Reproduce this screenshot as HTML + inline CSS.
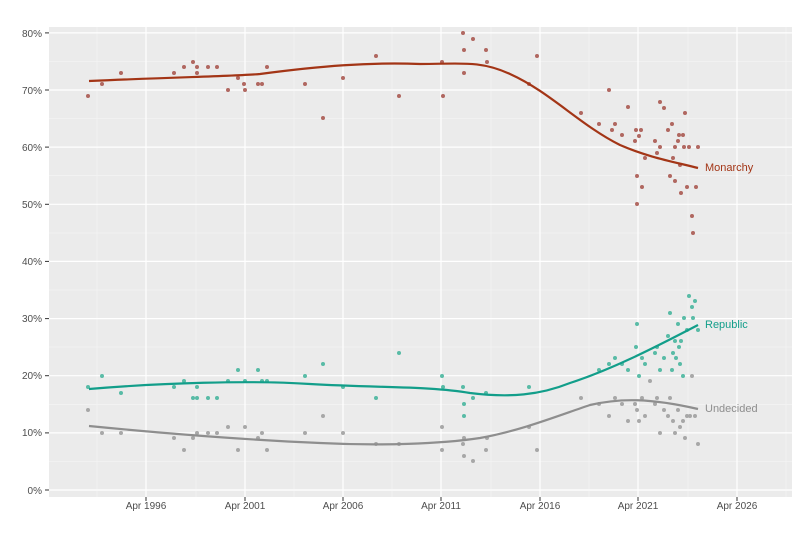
<!DOCTYPE html>
<html><head><meta charset="utf-8"><style>body{margin:0;background:#fff}svg{display:block}</style></head><body>
<svg width="800" height="534" viewBox="0 0 800 534" font-family="Liberation Sans, sans-serif">
<rect x="49" y="27" width="743" height="470" fill="#ebebeb"/>
<g stroke="#f5f5f5" stroke-width="0.6">
<line x1="49" x2="792" y1="461.4" y2="461.4"/><line x1="49" x2="792" y1="404.3" y2="404.3"/><line x1="49" x2="792" y1="347.1" y2="347.1"/><line x1="49" x2="792" y1="290" y2="290"/><line x1="49" x2="792" y1="232.9" y2="232.9"/><line x1="49" x2="792" y1="175.7" y2="175.7"/><line x1="49" x2="792" y1="118.6" y2="118.6"/><line x1="49" x2="792" y1="61.4" y2="61.4"/>
<line y1="27" y2="497" x1="97" x2="97"/><line y1="27" y2="497" x1="196" x2="196"/><line y1="27" y2="497" x1="294" x2="294"/><line y1="27" y2="497" x1="392" x2="392"/><line y1="27" y2="497" x1="491" x2="491"/><line y1="27" y2="497" x1="589" x2="589"/><line y1="27" y2="497" x1="688" x2="688"/><line y1="27" y2="497" x1="786" x2="786"/>
</g>
<g stroke="#fff" stroke-width="1.2">
<line x1="49" x2="792" y1="490" y2="490"/><line x1="49" x2="792" y1="432.9" y2="432.9"/><line x1="49" x2="792" y1="375.7" y2="375.7"/><line x1="49" x2="792" y1="318.6" y2="318.6"/><line x1="49" x2="792" y1="261.4" y2="261.4"/><line x1="49" x2="792" y1="204.3" y2="204.3"/><line x1="49" x2="792" y1="147.1" y2="147.1"/><line x1="49" x2="792" y1="90" y2="90"/><line x1="49" x2="792" y1="32.9" y2="32.9"/>
<line y1="27" y2="497" x1="146" x2="146"/><line y1="27" y2="497" x1="245" x2="245"/><line y1="27" y2="497" x1="343" x2="343"/><line y1="27" y2="497" x1="441" x2="441"/><line y1="27" y2="497" x1="540" x2="540"/><line y1="27" y2="497" x1="638" x2="638"/><line y1="27" y2="497" x1="737" x2="737"/>
</g>
<g stroke="#333" stroke-width="1">
<line x1="45" x2="49" y1="490" y2="490"/><line x1="45" x2="49" y1="432.9" y2="432.9"/><line x1="45" x2="49" y1="375.7" y2="375.7"/><line x1="45" x2="49" y1="318.6" y2="318.6"/><line x1="45" x2="49" y1="261.4" y2="261.4"/><line x1="45" x2="49" y1="204.3" y2="204.3"/><line x1="45" x2="49" y1="147.1" y2="147.1"/><line x1="45" x2="49" y1="90" y2="90"/><line x1="45" x2="49" y1="32.9" y2="32.9"/>
<line y1="497" y2="501" x1="146" x2="146"/><line y1="497" y2="501" x1="245" x2="245"/><line y1="497" y2="501" x1="343" x2="343"/><line y1="497" y2="501" x1="441" x2="441"/><line y1="497" y2="501" x1="540" x2="540"/><line y1="497" y2="501" x1="638" x2="638"/><line y1="497" y2="501" x1="737" x2="737"/>
</g>
<g font-size="10" fill="#4d4d4d" text-anchor="end">
<text x="42" y="494">0%</text><text x="42" y="436">10%</text><text x="42" y="379">20%</text><text x="42" y="322">30%</text><text x="42" y="265">40%</text><text x="42" y="208">50%</text><text x="42" y="151">60%</text><text x="42" y="94">70%</text><text x="42" y="37">80%</text>
</g>
<g font-size="10" fill="#4d4d4d" text-anchor="middle">
<text x="146" y="509">Apr 1996</text><text x="245" y="509">Apr 2001</text><text x="343" y="509">Apr 2006</text><text x="441" y="509">Apr 2011</text><text x="540" y="509">Apr 2016</text><text x="638" y="509">Apr 2021</text><text x="737" y="509">Apr 2026</text>
</g>
<g fill="#a65048" opacity="0.85">
<circle cx="88" cy="96" r="2"/><circle cx="102" cy="84" r="2"/><circle cx="121" cy="73" r="2"/><circle cx="174" cy="73" r="2"/><circle cx="184" cy="67" r="2"/><circle cx="193" cy="62" r="2"/><circle cx="197" cy="67" r="2"/><circle cx="197" cy="73" r="2"/><circle cx="208" cy="67" r="2"/><circle cx="217" cy="67" r="2"/><circle cx="228" cy="90" r="2"/><circle cx="238" cy="78" r="2"/><circle cx="244" cy="84" r="2"/><circle cx="245" cy="90" r="2"/><circle cx="258" cy="84" r="2"/><circle cx="262" cy="84" r="2"/><circle cx="267" cy="67" r="2"/><circle cx="305" cy="84" r="2"/><circle cx="323" cy="118" r="2"/><circle cx="343" cy="78" r="2"/><circle cx="376" cy="56" r="2"/><circle cx="399" cy="96" r="2"/><circle cx="442" cy="62" r="2"/><circle cx="443" cy="96" r="2"/><circle cx="463" cy="33" r="2"/><circle cx="464" cy="50" r="2"/><circle cx="464" cy="73" r="2"/><circle cx="473" cy="39" r="2"/><circle cx="486" cy="50" r="2"/><circle cx="487" cy="62" r="2"/><circle cx="529" cy="84" r="2"/><circle cx="537" cy="56" r="2"/><circle cx="581" cy="113" r="2"/><circle cx="599" cy="124" r="2"/><circle cx="609" cy="90" r="2"/><circle cx="612" cy="130" r="2"/><circle cx="615" cy="124" r="2"/><circle cx="622" cy="135" r="2"/><circle cx="628" cy="107" r="2"/><circle cx="635" cy="141" r="2"/><circle cx="636" cy="130" r="2"/><circle cx="637" cy="176" r="2"/><circle cx="637" cy="204" r="2"/><circle cx="639" cy="136" r="2"/><circle cx="641" cy="130" r="2"/><circle cx="642" cy="187" r="2"/><circle cx="645" cy="158" r="2"/><circle cx="655" cy="141" r="2"/><circle cx="657" cy="153" r="2"/><circle cx="660" cy="147" r="2"/><circle cx="660" cy="102" r="2"/><circle cx="664" cy="108" r="2"/><circle cx="668" cy="130" r="2"/><circle cx="670" cy="176" r="2"/><circle cx="672" cy="124" r="2"/><circle cx="673" cy="158" r="2"/><circle cx="675" cy="147" r="2"/><circle cx="675" cy="181" r="2"/><circle cx="678" cy="141" r="2"/><circle cx="679" cy="135" r="2"/><circle cx="680" cy="165" r="2"/><circle cx="681" cy="193" r="2"/><circle cx="683" cy="135" r="2"/><circle cx="684" cy="147" r="2"/><circle cx="685" cy="113" r="2"/><circle cx="687" cy="187" r="2"/><circle cx="689" cy="147" r="2"/><circle cx="692" cy="216" r="2"/><circle cx="693" cy="233" r="2"/><circle cx="696" cy="187" r="2"/><circle cx="698" cy="147" r="2"/>
</g>
<g fill="#3fb39a" opacity="0.85">
<circle cx="88" cy="387" r="2"/><circle cx="102" cy="376" r="2"/><circle cx="121" cy="393" r="2"/><circle cx="174" cy="387" r="2"/><circle cx="184" cy="381" r="2"/><circle cx="193" cy="398" r="2"/><circle cx="197" cy="387" r="2"/><circle cx="197" cy="398" r="2"/><circle cx="208" cy="398" r="2"/><circle cx="217" cy="398" r="2"/><circle cx="228" cy="381" r="2"/><circle cx="238" cy="370" r="2"/><circle cx="245" cy="381" r="2"/><circle cx="258" cy="370" r="2"/><circle cx="262" cy="381" r="2"/><circle cx="267" cy="381" r="2"/><circle cx="305" cy="376" r="2"/><circle cx="323" cy="364" r="2"/><circle cx="343" cy="387" r="2"/><circle cx="376" cy="398" r="2"/><circle cx="399" cy="353" r="2"/><circle cx="442" cy="376" r="2"/><circle cx="443" cy="387" r="2"/><circle cx="463" cy="387" r="2"/><circle cx="464" cy="404" r="2"/><circle cx="464" cy="416" r="2"/><circle cx="473" cy="398" r="2"/><circle cx="486" cy="393" r="2"/><circle cx="529" cy="387" r="2"/><circle cx="599" cy="370" r="2"/><circle cx="609" cy="364" r="2"/><circle cx="615" cy="358" r="2"/><circle cx="622" cy="364" r="2"/><circle cx="628" cy="370" r="2"/><circle cx="636" cy="347" r="2"/><circle cx="637" cy="324" r="2"/><circle cx="639" cy="376" r="2"/><circle cx="642" cy="358" r="2"/><circle cx="645" cy="364" r="2"/><circle cx="655" cy="353" r="2"/><circle cx="657" cy="347" r="2"/><circle cx="660" cy="370" r="2"/><circle cx="664" cy="358" r="2"/><circle cx="668" cy="336" r="2"/><circle cx="670" cy="313" r="2"/><circle cx="672" cy="370" r="2"/><circle cx="673" cy="353" r="2"/><circle cx="675" cy="341" r="2"/><circle cx="676" cy="358" r="2"/><circle cx="678" cy="324" r="2"/><circle cx="679" cy="347" r="2"/><circle cx="680" cy="364" r="2"/><circle cx="681" cy="341" r="2"/><circle cx="683" cy="376" r="2"/><circle cx="684" cy="318" r="2"/><circle cx="687" cy="330" r="2"/><circle cx="689" cy="296" r="2"/><circle cx="692" cy="307" r="2"/><circle cx="693" cy="318" r="2"/><circle cx="695" cy="301" r="2"/><circle cx="698" cy="330" r="2"/>
</g>
<g fill="#a0a0a0" opacity="0.9">
<circle cx="88" cy="410" r="2"/><circle cx="102" cy="433" r="2"/><circle cx="121" cy="433" r="2"/><circle cx="174" cy="438" r="2"/><circle cx="184" cy="450" r="2"/><circle cx="193" cy="438" r="2"/><circle cx="197" cy="433" r="2"/><circle cx="208" cy="433" r="2"/><circle cx="217" cy="433" r="2"/><circle cx="228" cy="427" r="2"/><circle cx="238" cy="450" r="2"/><circle cx="245" cy="427" r="2"/><circle cx="258" cy="438" r="2"/><circle cx="262" cy="433" r="2"/><circle cx="267" cy="450" r="2"/><circle cx="305" cy="433" r="2"/><circle cx="323" cy="416" r="2"/><circle cx="343" cy="433" r="2"/><circle cx="376" cy="444" r="2"/><circle cx="399" cy="444" r="2"/><circle cx="442" cy="427" r="2"/><circle cx="442" cy="450" r="2"/><circle cx="463" cy="444" r="2"/><circle cx="464" cy="456" r="2"/><circle cx="464" cy="438" r="2"/><circle cx="473" cy="461" r="2"/><circle cx="486" cy="450" r="2"/><circle cx="487" cy="438" r="2"/><circle cx="529" cy="427" r="2"/><circle cx="537" cy="450" r="2"/><circle cx="581" cy="398" r="2"/><circle cx="599" cy="404" r="2"/><circle cx="609" cy="416" r="2"/><circle cx="615" cy="398" r="2"/><circle cx="622" cy="404" r="2"/><circle cx="628" cy="421" r="2"/><circle cx="635" cy="404" r="2"/><circle cx="637" cy="410" r="2"/><circle cx="639" cy="421" r="2"/><circle cx="642" cy="398" r="2"/><circle cx="645" cy="416" r="2"/><circle cx="650" cy="381" r="2"/><circle cx="655" cy="404" r="2"/><circle cx="657" cy="398" r="2"/><circle cx="660" cy="433" r="2"/><circle cx="664" cy="410" r="2"/><circle cx="668" cy="416" r="2"/><circle cx="670" cy="398" r="2"/><circle cx="673" cy="421" r="2"/><circle cx="675" cy="433" r="2"/><circle cx="678" cy="410" r="2"/><circle cx="680" cy="427" r="2"/><circle cx="683" cy="421" r="2"/><circle cx="685" cy="438" r="2"/><circle cx="687" cy="416" r="2"/><circle cx="690" cy="416" r="2"/><circle cx="692" cy="376" r="2"/><circle cx="695" cy="416" r="2"/><circle cx="698" cy="444" r="2"/>
</g>
<g fill="none" stroke-width="2.2">
<path d="M89,81 C180,77 240,76 260,74 C320,66 370,62 420,64 C460,64 480,60 510,74 C550,92 580,125 620,145 C650,158 675,162 698,168" stroke="#a33516"/>
<path d="M89,389 C160,383 250,380 310,384 C380,388 430,386 470,393 C510,398 540,395 570,383 C610,370 650,350 698,325" stroke="#129e8a"/>
<path d="M89,426 C160,433 250,440 320,443 C380,446 440,444 480,438 C520,431 560,415 590,405 C620,398 650,398 698,409" stroke="#8e8e8e"/>
</g>
<g font-size="11">
<text x="705" y="171" fill="#a33516">Monarchy</text>
<text x="705" y="328" fill="#129e8a">Republic</text>
<text x="705" y="412" fill="#8e8e8e">Undecided</text>
</g>
</svg>
</body></html>
